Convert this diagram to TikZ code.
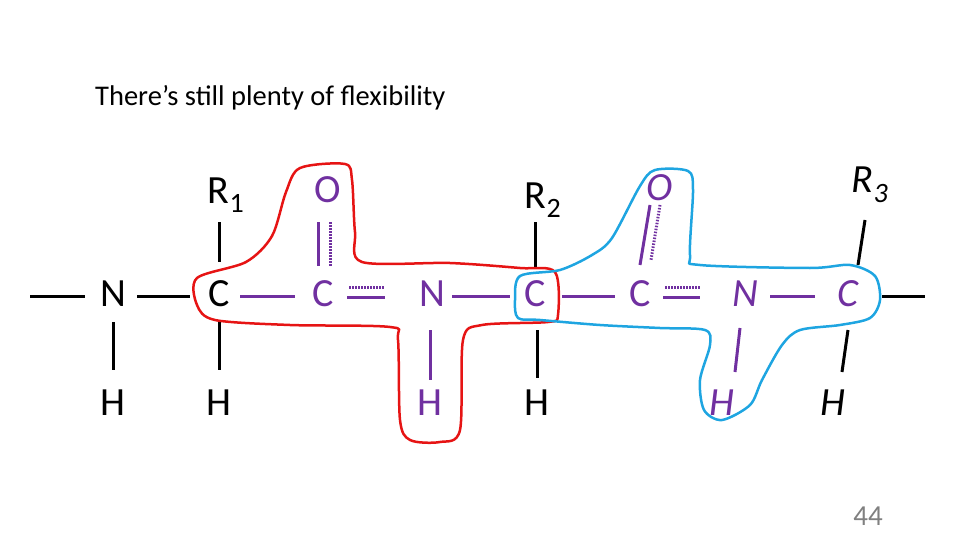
\documentclass[tikz,border=0pt]{standalone}
\usepackage{fontspec}
\setmainfont{Carlito}
\begin{document}
\begin{tikzpicture}[x=1pt,y=-1pt,
  atm/.style={inner sep=0pt,font=\fontsize{40}{40}\selectfont},
  pu/.style={text=pur},
  bk/.style={line width=3pt,black},
  bp/.style={line width=3pt,pur},
  dp/.style={line width=3pt,pur,dash pattern=on 1.5pt off 1.5pt},
  loop/.style={line width=2.5pt}]
\definecolor{pur}{RGB}{112,48,160}
\definecolor{lred}{RGB}{230,20,20}
\definecolor{lblue}{RGB}{30,165,225}
\useasboundingbox (0,0) rectangle (960,540);
\node[anchor=west,inner sep=0pt,font=\fontsize{28.5}{28.5}\selectfont] (t) at (95,98) {There’s still plenty of flexibility};
\node[inner sep=0pt,font=\fontsize{29}{29}\selectfont,text=gray] (pg) at (868,516) {44};
% main chain
\node[atm] (N1) at (113,294) {N};
\node[atm] (C1) at (219,294) {C};
\node[atm,pu] (C2) at (323,294) {C};
\node[atm,pu] (N2) at (432,294) {N};
\node[atm,pu] (C3) at (535,294) {C};
\node[atm,pu] (C4) at (640,294) {C};
\node[atm,pu] (N3) at (745,294) {\itshape N};
\node[atm,pu] (C5) at (848,294) {\itshape C};
\node[atm] (R1) at (226,195) {R\textsubscript{1}};
\node[atm,pu] (O1) at (328,190) {O};
\node[atm] (R2) at (543,200) {R\textsubscript{2}};
\node[atm,pu] (O2) at (660,188) {\itshape O};
\node[atm] (R3) at (870,185) {\itshape R\textsubscript{3}};
\node[atm] (H1) at (113,403) {H};
\node[atm] (H2) at (219,403) {H};
\node[atm,pu] (H3) at (430,403) {H};
\node[atm] (H4) at (537,403) {H};
\node[atm,pu] (H5) at (722,403) {\itshape H};
\node[atm] (H6) at (833,403) {\itshape H};
\coordinate (L) at (30,296);
\coordinate (R) at (925,296);
% bonds
\draw[bk] (L) -- (85,296);
\draw[bk] (137,296) -- (190,296);
\draw[bp] (240,296) -- (295,296);
\draw[bp] (347,297) -- (385,297);
\draw[dp] (349,287) -- (385,287);
\draw[bp] (452,296) -- (510,296);
\draw[bp] (562,296) -- (615,296);
\draw[dp] (665,287) -- (700,287);
\draw[bp] (663,297) -- (700,297);
\draw[bp] (770,296) -- (815,296);
\draw[bk] (882,296) -- (R);
\draw[bk] (219,222) -- (219,262);
\draw[bp] (318,222) -- (318,266);
\draw[dp] (330,222) -- (330,266);
\draw[bk] (535,222) -- (535,268);
\draw[bp] (650,205) -- (640,265);
\draw[dp] (660,205) -- (651,260);
\draw[bk] (865,220) -- (858,265);
\draw[bk] (113,322) -- (113,370);
\draw[bk] (219,322) -- (219,370);
\draw[bp] (430,330) -- (430,380);
\draw[bk] (537,330) -- (537,378);
\draw[bp] (740,328) -- (735,372);
\draw[bk] (848,330) -- (842,372);
% loops
\draw[loop,lred] plot[smooth cycle,tension=0.5] coordinates {(197,278) (246,262) (272,236) (286,192) (300,168) (345,164) (352,180) (355,232) (362,262) (450,263) (520,268) (555,272) (558,315) (548,322) (482,325) (463,340) (460,430) (440,442) (410,440) (400,420) (398,340) (390,327) (290,325) (215,320) (197,305)};
\draw[loop,lblue] plot[smooth cycle,tension=0.5] coordinates {(520,276) (560,270) (592,255) (612,238) (640,186) (655,170) (688,171) (693,190) (690,255) (700,265) (810,268) (850,265) (875,276) (880,300) (870,318) (840,325) (800,330) (782,345) (762,380) (750,405) (722,420) (704,410) (700,380) (710,345) (705,330) (660,328) (600,325) (540,320) (518,318) (515,300)};
\end{tikzpicture}
\end{document}
